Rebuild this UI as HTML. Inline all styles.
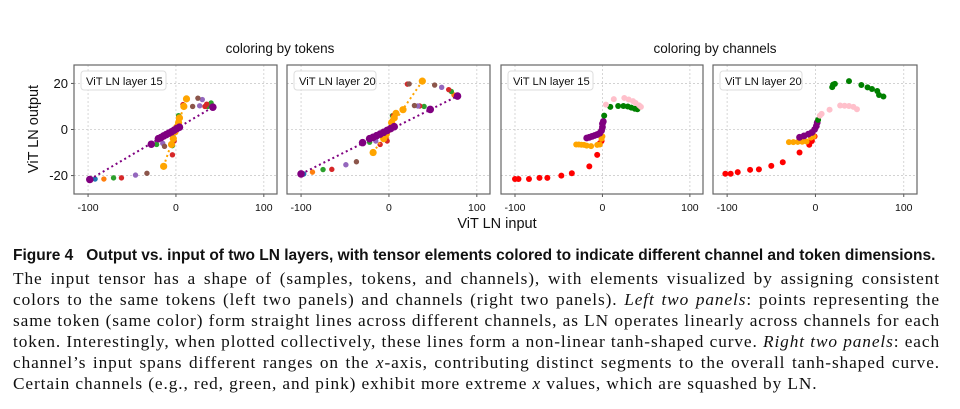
<!DOCTYPE html>
<html><head><meta charset="utf-8"><style>
body{margin:0;background:#fff;width:960px;height:409px;overflow:hidden;position:relative}
.cap{position:absolute;left:13px;width:927px;font-family:"Liberation Serif",serif;font-size:17.3px;letter-spacing:0.9px;color:#111;line-height:21px;white-space:nowrap}
.j{text-align:justify;text-align-last:justify}
.hd{position:absolute;left:13px;top:247px;font-family:"Liberation Sans",sans-serif;font-weight:bold;font-size:15.5px;color:#111;white-space:nowrap}
</style></head><body>
<svg id="fig" width="960" height="240" style="position:absolute;left:0;top:0" font-family="Liberation Sans, sans-serif"></svg>
<div class="hd">Figure 4&nbsp;&nbsp; Output vs. input of two LN layers, with tensor elements colored to indicate different channel and token dimensions.</div>
<div class="cap j" style="top:268px">The input tensor has a shape of (samples, tokens, and channels), with elements visualized by assigning consistent</div>
<div class="cap j" style="top:289px">colors to the same tokens (left two panels) and channels (right two panels). <i>Left two panels</i>: points representing the</div>
<div class="cap j" style="top:310px">same token (same color) form straight lines across different channels, as LN operates linearly across channels for each</div>
<div class="cap j" style="top:331px">token. Interestingly, when plotted collectively, these lines form a non-linear tanh-shaped curve. <i>Right two panels</i>: each</div>
<div class="cap j" style="top:352px">channel’s input spans different ranges on the <i>x</i>-axis, contributing distinct segments to the overall tanh-shaped curve.</div>
<div class="cap" style="top:373px">Certain channels (e.g., red, green, and pink) exhibit more extreme <i>x</i> values, which are squashed by LN.</div>
<script>
// ---- data ----
const xTicks=[-100,0,100];
const yTicks=[-20,0,20];
const panelLabels=["ViT LN layer 15","ViT LN layer 20","ViT LN layer 15","ViT LN layer 20"];
const tokenColors=["#1f77b4","#ff7f0e","#2ca02c","#d62728","#9467bd","#8c564b","orange","purple"];
const p1Blue=[[-92,-21.5],[-3,-2],[2,2]];
const p1Orange=[[-82,-21.5],[-3,-4],[3,4],[40,11]];
const p1Green=[[-71,-21],[-22,-6.5],[-4,-7],[3,6],[40,11.5],[36,10]];
const p1Red=[[-62,-21],[-4,-11],[-2,-5],[3,5],[8,10.8],[35,11],[33,10]];
const p1Violet=[[-46,-19.8],[-15,-6],[27,10.3],[30,13]];
const p1Brown=[[-33,-19],[-13,-7.3],[19,10],[25,13.6]];
const p1Gold=[[-14,-16],[-5,-6.5],[-3,-4],[-1,-1],[1,1],[3,3],[4,5],[9,10],[12,13.3]];
const p1Purple=[[-98,-21.7],[-28,-6.4],[-20,-4],[-17,-3.5],[-14,-2.8],[-11,-2.2],[-8,-1.6],[-5,-1],[-2,-0.3],[1,0.4],[4,1],[42,9.7]];
const p2Blue=[[-97,-19.3],[-3,-2],[3,2]];
const p2Orange=[[-87,-18.5],[-3,-4],[4,4],[74,15]];
const p2Green=[[-75,-17.4],[-22,-5.5],[4,6],[71,16.5],[40,10]];
const p2Red=[[-65,-17.3],[-10,-6.5],[-2,-5],[5,6],[21,19.7],[35,10.2],[68,17.3]];
const p2Violet=[[-49,-15.3],[-15,-5],[60,18.3],[33,10.2]];
const p2Brown=[[-37,-14],[23,19.8],[29,10.4],[52,19.3]];
const p2Gold=[[-18,-10],[-6,-4],[-3,-2],[0,0],[3,3],[6,5],[8,7],[16,8.6],[38,21]];
const p2Purple=[[-100,-19.3],[-30,-5.7],[-22,-4],[-18,-3.4],[-14,-2.7],[-10,-2],[-6,-1.2],[-2,-0.4],[2,0.4],[6,1.2],[47,8.7],[78,14.5]];
const p3Red=[[-100,-21.5],[-96,-21.5],[-84,-21.5],[-72,-21],[-63,-21],[-47,-20],[-35,-19],[-15,-16],[-6,-11],[-3,-6],[-1,-5]];
const p3Orange=[[-30,-6.5],[-27,-6.5],[-24,-6.6],[-21,-6.7],[-18,-7],[-13,-7.2],[-6,-6.7],[-3,-6.5],[-1,-4],[0,-3]];
const p3Purple=[[-18,-3.7],[-15,-3.4],[-12,-3],[-9,-2.6],[-6,-2.2],[-3,-1.6],[-1,-0.5],[0,1],[0,2.5],[1,3.5]];
const p3Green=[[2,6],[9,9.8],[18,10.2],[24,10.2],[29,10],[33,9.5],[37,9],[40,8.8]];
const p3Pink=[[4,10.8],[13,13.2],[25,13.7],[30,13],[35,12.3],[38,11.5],[42,10.5],[44,9.8]];
const p4Red=[[-102,-19.2],[-96,-19.2],[-88,-18.5],[-74,-17.5],[-64,-17.3],[-50,-15.8],[-37,-14.2],[-18,-10],[-7,-6.6],[-4,-5],[-1,-3]];
const p4Orange=[[-30,-5.5],[-25,-5.5],[-20,-5.4],[-15,-5.3],[-10,-5.2],[-5,-3.5],[-2,-3]];
const p4Purple=[[-18,-3.4],[-13,-2.8],[-8,-2],[-4,-1.3],[-1,0],[1,1.5],[2,3]];
const p4Green=[[3,4.2],[19,18.4],[20,19.5],[22,19.8],[38,21],[52,19.3],[59,18.3],[64,17.6],[70,16.7],[72,15],[77,14.3]];
const p4Pink=[[5,6],[7,6.8],[16,8.6],[28,10.4],[33,10.3],[38,10.2],[43,9.8],[47,8.8]];

const NS="http://www.w3.org/2000/svg";
const svg=document.getElementById('fig');
function mk(tag,attrs,parent){const e=document.createElementNS(NS,tag);for(const k in attrs)e.setAttribute(k,attrs[k]);(parent||svg).appendChild(e);return e;}
const X0=-116,X1=115,Y0=-28,Y1=28;
const panels=[{l:74,r:277},{l:287,r:490},{l:501,r:703},{l:713,r:917}];
const TOP=65,BOT=194;
function sx(p,v){return p.l+(v-X0)/(X1-X0)*(p.r-p.l);}
function sy(v){return BOT-(v-Y0)/(Y1-Y0)*(BOT-TOP);}

panels.forEach((p,i)=>{
  const g=mk('g',{});
  
  
  xTicks.forEach(t=>{
    const ln=mk('line',{x1:sx(p,t),x2:sx(p,t),y1:TOP,y2:BOT,stroke:'#ccc','stroke-width':0.8,'stroke-dasharray':'2,2'},g);
    
    
    const tx=mk('text',{x:sx(p,t),y:BOT+17,'font-size':10.5,'text-anchor':'middle',fill:'#111'},g);
    tx.textContent=t;
    
    
    mk('line',{x1:sx(p,t),x2:sx(p,t),y1:BOT,y2:BOT+3,stroke:'#555'},g);
  });
  yTicks.forEach(t=>{
    const ln=mk('line',{x1:p.l,x2:p.r,y1:sy(t),y2:sy(t),stroke:'#ccc','stroke-width':0.8,'stroke-dasharray':'2,2'},g);
    
    
    if(i===0){
      mk('line',{x1:p.l-3,x2:p.l,y1:sy(t),y2:sy(t),stroke:'#555'},g);
      const tx=mk('text',{x:p.l-6,y:sy(t)+4.5,'font-size':13,'text-anchor':'end',fill:'#111'},g);
      tx.textContent=t;
      
      
    }
  });
  const fr=mk('rect',{x:p.l,y:TOP,width:p.r-p.l,height:BOT-TOP,fill:'none',stroke:'#666','stroke-width':1.2},g);
  
  
  const lb=mk('rect',{x:p.l+7,y:TOP+6,width:i%2?82:85,height:19,rx:3,fill:'#fff','fill-opacity':0.85,stroke:'#ddd'},g);
  
  
  const lt=mk('text',{x:p.l+12,y:TOP+20,'font-size':11.2,fill:'#111'},g);
  lt.textContent=panelLabels[i];
  
  
});

function series(pi,pts,color,r,line){
  const p=panels[pi];
  if(line){
    const pl=mk('polyline',{points:line.map(d=>sx(p,d[0])+','+sy(d[1])).join(' '),fill:'none',stroke:color,'stroke-width':2,'stroke-dasharray':'2,3'});
    
    
  }
  pts.forEach(d=>{
    const c=mk('circle',{cx:sx(p,d[0]),cy:sy(d[1]),r:r,fill:color});
    
    
  });
}
const C=tokenColors;
series(0,p1Blue,C[0],2.7);series(0,p1Orange,C[1],2.7);series(0,p1Green,C[2],2.7);series(0,p1Red,C[3],2.7);
series(0,p1Violet,C[4],2.7);series(0,p1Brown,C[5],2.7);
series(0,p1Gold,C[6],3.6,[p1Gold[0],p1Gold[p1Gold.length-1]]);
series(0,p1Purple,C[7],3.8,[p1Purple[0],p1Purple[p1Purple.length-1]]);
series(1,p2Blue,C[0],2.7);series(1,p2Orange,C[1],2.7);series(1,p2Green,C[2],2.7);series(1,p2Red,C[3],2.7);
series(1,p2Violet,C[4],2.7);series(1,p2Brown,C[5],2.7);
series(1,p2Gold,C[6],3.6,[p2Gold[0],p2Gold[p2Gold.length-1]]);
series(1,p2Purple,C[7],3.8,[p2Purple[0],p2Purple[p2Purple.length-1]]);
series(2,p3Red,'red',3);series(2,p3Orange,'orange',3);series(2,p3Purple,'purple',3.4);series(2,p3Green,'green',3);series(2,p3Pink,'pink',3);
series(3,p4Red,'red',3);series(3,p4Orange,'orange',3);series(3,p4Purple,'purple',3.4);series(3,p4Green,'green',3);series(3,p4Pink,'pink',3);

function txt(x,y,s,size,name,rot){
  const t=mk('text',{x:x,y:y,'font-size':size,'text-anchor':'middle',fill:'#111'});
  if(rot)t.setAttribute('transform','rotate(-90 '+x+' '+y+')');
  t.textContent=s;
  
  
}
txt(280,53,'coloring by tokens',13.5,'title-tokens');
txt(715,53,'coloring by channels',13.5,'title-channels');
txt(497,228,'ViT LN input',14.5,'x-axis-title');
txt(38,129,'ViT LN output',14.5,'y-axis-title',true);
</script>
</body></html>
